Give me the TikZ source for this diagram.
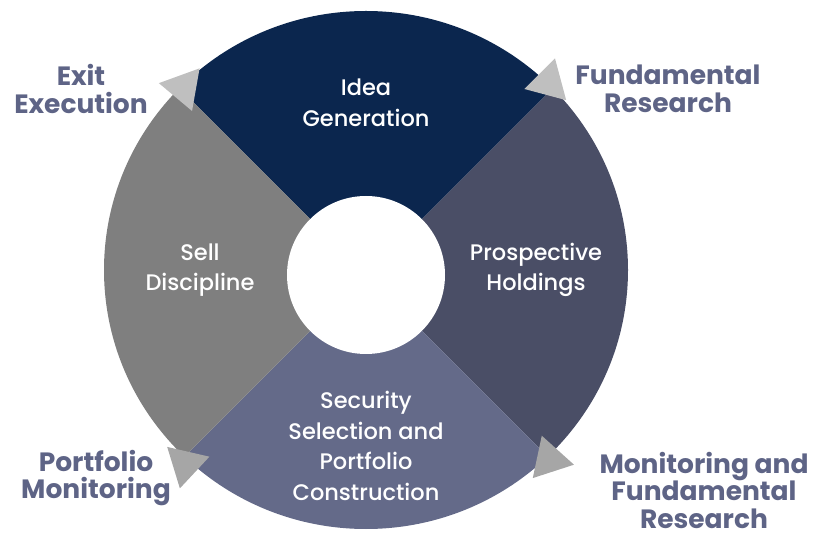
\documentclass[tikz,border=0pt]{standalone}
\usepackage{fontspec}
\setmainfont{Poppins}
\newfontfamily\mellomfont{Poppins Medium}
\usepackage{xcolor}
\usetikzlibrary{shapes.geometric}

\definecolor{idee}{RGB}{11,38,78}
\definecolor{holding}{RGB}{74,78,102}
\definecolor{utvalg}{RGB}{100,106,137}
\definecolor{salg}{RGB}{127,127,127}
\definecolor{etikett}{RGB}{94,100,134}
\definecolor{pillys}{RGB}{191,191,191}
\definecolor{pilmork}{RGB}{166,166,166}

\begin{document}
\begin{tikzpicture}[
    x=1pt, y=-1pt,
    innertekst/.style={text=white, align=center, font=\mellomfont\fontsize{22.5}{30.5}\selectfont},
    yttertekst/.style={text=etikett, align=center, inner sep=0pt,
        font=\bfseries\fontsize{26.5}{27.5}\selectfont},
    pil/.style={regular polygon, regular polygon sides=3, minimum size=50pt,
        inner sep=0pt, draw=none}
]
\useasboundingbox (0,0) rectangle (814,534);

% ring in four quarters
\begin{scope}
    \clip (366,270) ellipse [x radius=262pt, y radius=259pt];
    \fill[idee] (366,275) -- (46,-45) -- (686,-45) -- cycle;
    \fill[holding] (366,275) -- (686,-45) -- (686,595) -- cycle;
    \fill[utvalg] (366,275) -- (686,595) -- (46,595) -- cycle;
    \fill[salg] (366,275) -- (46,595) -- (46,-45) -- cycle;
\end{scope}
\fill[white] (366,275) circle [radius=79pt];

% arrow heads
\node[pil, fill=pillys, shape border rotate=-40] (pilvenstre) at (183.5,87.5) {};
\node[pil, fill=pillys, shape border rotate=-135] (pilhoyre) at (548.5,82.5) {};
\node[pil, fill=pilmork, shape border rotate=138] (pilnedhoyre) at (549.5,459.5) {};
\node[pil, fill=pilmork, shape border rotate=47] (pilnedvenstre) at (185.5,464) {};

% quarter texts
\node[innertekst] (idea) at (366,103) {Idea\\Generation};
\node[innertekst] (prospective) at (536,270) {Prospective\\Holdings};
\node[innertekst] (security) at (366,446) {Security\\Selection and\\Portfolio\\Construction};
\node[innertekst] (sell) at (200,270) {Sell\\Discipline};

% outer labels
\node[yttertekst] (exit) at (81,89) {Exit\\Execution};
\node[yttertekst] (fundamental) at (668,89) {Fundamental\\Research};
\node[yttertekst] (monitoring) at (704,490) {Monitoring and\\Fundamental\\Research};
\node[yttertekst] (portfolio) at (96,478) {Portfolio\\Monitoring};
\end{tikzpicture}
\end{document}
